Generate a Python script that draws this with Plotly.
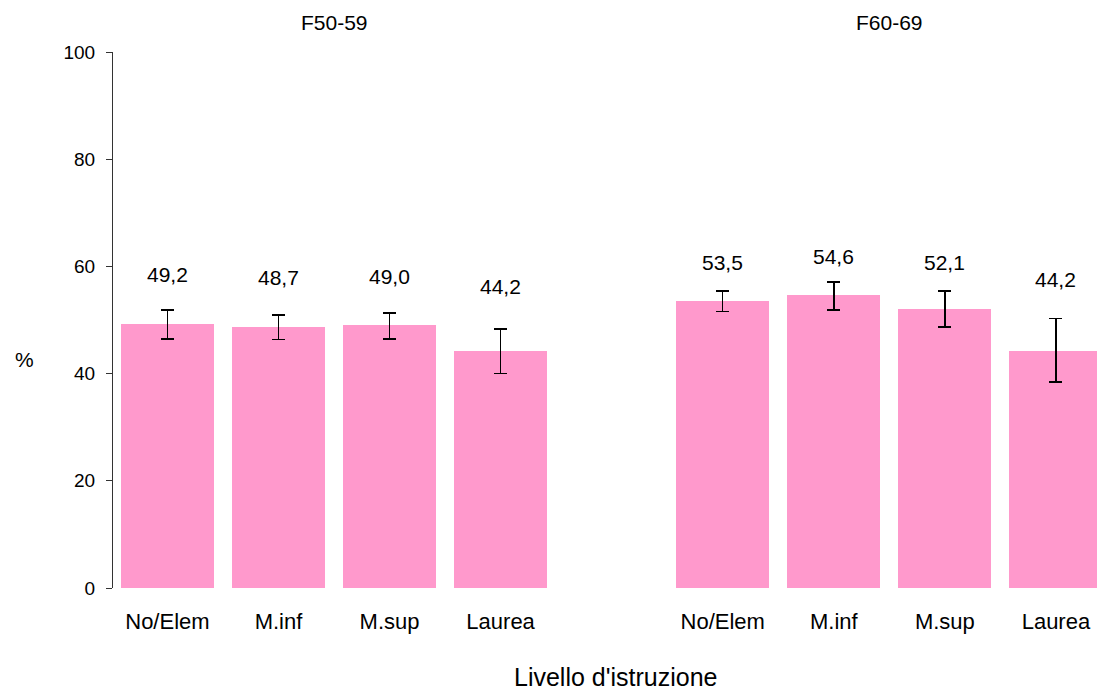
import plotly.graph_objects as go

groups = ["F50-59", "F60-69"]
categories = ["No/Elem", "M.inf", "M.sup", "Laurea"]
f50_values = [49.2, 48.7, 49.0, 44.2]
f50_err_plus = [2.7, 2.2, 2.3, 4.1]
f50_err_minus = [2.7, 2.3, 2.5, 4.2]
f60_values = [53.5, 54.6, 52.1, 44.2]
f60_err_plus = [1.9, 2.5, 3.3, 6.1]
f60_err_minus = [1.9, 2.7, 3.4, 5.8]
y_ticks = [0, 20, 40, 60, 80, 100]
x_title = "Livello d'istruzione"
y_title = "%"

FONT = "Liberation Sans, Arial, sans-serif"
BAR = "#FF99CC"

series = [(f50_values, f50_err_plus, f50_err_minus), (f60_values, f60_err_plus, f60_err_minus)]

fig = go.Figure()
tickvals, ticktext = [], []
for g, (vals, ep, em) in enumerate(series):
    xs = [g * 5 + i for i in range(len(categories))]
    tickvals += xs
    ticktext += categories
    fig.add_trace(go.Bar(
        x=xs, y=vals, width=0.837,
        marker=dict(color=BAR, line=dict(width=0)),
        error_y=dict(type="data", symmetric=False, array=ep, arrayminus=em,
                     color="black", thickness=1.5, width=6.5),
        showlegend=False, hoverinfo="y",
    ))
    for x, v, p in zip(xs, vals, ep):
        upper = v + p
        fig.add_annotation(x=x, y=0.635 * upper + 25.54, xref="x", yref="y",
                           text=f"{v:.1f}".replace(".", ","), showarrow=False,
                           font=dict(size=21, color="black", family=FONT))
    fig.add_annotation(x=g * 5 + 1.5, y=1.080, xref="x", yref="paper",
                       text=groups[g], showarrow=False,
                       font=dict(size=21, color="black", family=FONT))

fig.add_annotation(x=0.511, y=-0.196, xref="paper", yref="paper", text=x_title,
                   showarrow=False, font=dict(size=25, color="black", family=FONT))
fig.add_annotation(x=-0.1017, y=0.427, xref="paper", yref="paper", text=y_title,
                   showarrow=False, font=dict(size=21, color="black", family=FONT))

fig.update_layout(
    width=1097, height=695,
    margin=dict(l=113, r=0, t=52, b=107),
    plot_bgcolor="white", paper_bgcolor="white",
    font=dict(family=FONT, size=20, color="black"),
    bargap=0,
    xaxis=dict(range=[-0.49, 8.37], tickvals=tickvals, ticktext=ticktext,
               showline=False, showgrid=False, zeroline=False, ticks="",
               ticklabelstandoff=18, tickfont=dict(size=22, color="black")),
    yaxis=dict(range=[0, 100], tickvals=y_ticks, showline=True, linecolor="#333333",
               linewidth=1, ticks="outside", ticklen=6, tickcolor="#333333",
               showgrid=False, zeroline=False, ticklabelstandoff=7,
               tickfont=dict(size=19, color="black")),
)

fig.write_html("out.html", config={"displayModeBar": False},
               post_script="document.body.style.margin='0';document.body.style.overflow='hidden';")
